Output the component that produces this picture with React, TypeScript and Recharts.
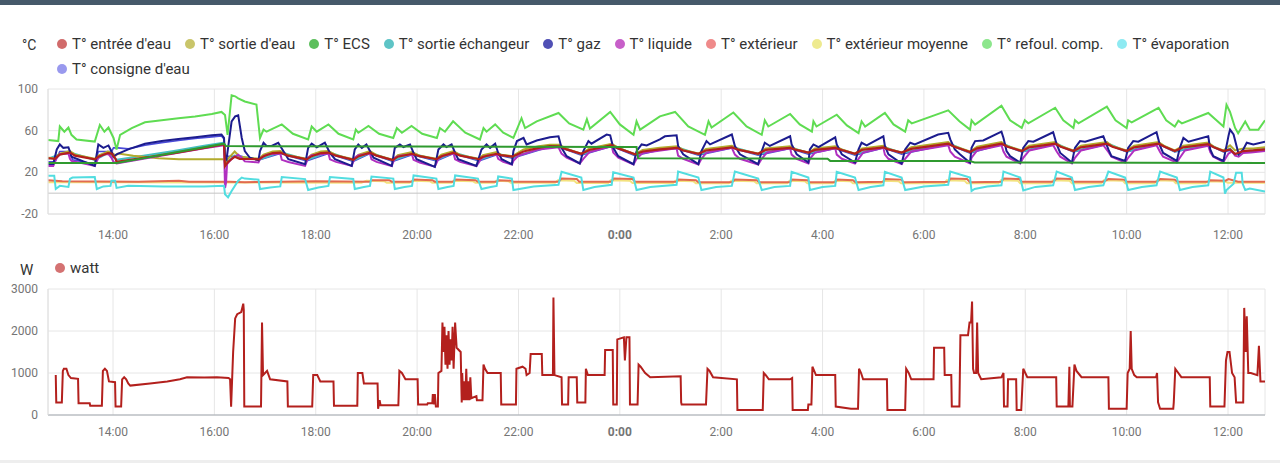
import { LineChart, Line, XAxis, YAxis, CartesianGrid, ReferenceLine } from "recharts";

type Pt = [number, number];

/* ── axes ── */
const timeDomain: [number, number] = [12.717, 36.73];
const hourTicks = [14, 16, 18, 20, 22, 24, 26, 28, 30, 32, 34, 36];
const tempTicks = [-20, 0, 20, 40, 60, 80, 100];
const wattTicks = [0, 500, 1000, 1500, 2000, 2500, 3000];

/* ── temperature series (hour, °C) ── */
const entree: Pt[] = [
  [12.72,33.5],[12.85,33],[12.95,37],[13.15,39],[13.25,36],[13.64,32.5],[13.71,35],[13.90,38.5],[13.97,38],[14.05,33],[14.07,30],[14.6,34],[15.2,38.5],[15.8,43.5],[16.19,47],[16.21,26],[16.27,30],[16.40,35],[16.50,33],[16.70,32.8],[16.88,32.5],[16.97,35.5],[17.15,38.5],[17.30,39],[17.45,36],[17.82,32.5],[17.92,35.5],[18.10,38.5],[18.25,39],[18.40,36],[18.74,32],[18.85,35.5],[19.07,38.9],[19.20,36],[19.52,31.7],[19.62,35],[19.90,37.8],[20.05,35.5],[20.38,32.6],[20.48,35.5],[20.72,38.9],[20.85,36],[21.22,32.6],[21.30,35],[21.57,37.8],[21.65,36.5],[21.88,35],[22.10,40],[22.40,43.5],[22.62,45.3],[22.81,45],[22.95,42],[23.24,37.8],[23.40,41.5],[23.84,46],[23.97,43],[24.30,37.3],[24.45,40],[24.79,42],[25.13,43.5],[25.25,41],[25.55,37.8],[25.70,41],[26.21,44],[26.35,41.5],[26.73,37.8],[26.88,41.5],[27.36,43.5],[27.48,41.5],[27.72,38.9],[27.85,41.5],[28.25,43.5],[28.38,41.5],[28.64,37.8],[28.78,41.5],[29.20,44],[29.30,42],[29.56,38.9],[29.75,42.5],[30.48,47.5],[30.60,44.5],[30.91,39.5],[31.05,43],[31.53,47.5],[31.65,44.5],[31.93,40.5],[32.08,44],[32.59,47.5],[32.70,44.5],[32.95,40.5],[33.10,44],[33.61,47.5],[33.72,44.5],[34.00,40.5],[34.15,44],[34.63,47.5],[34.75,44.5],[34.95,40.5],[35.12,44],[35.61,47],[35.72,44],[35.91,40.5],[36.04,42],[36.14,37.5],[36.30,40.4],[36.50,41],[36.73,42],
];
const sortieEau: Pt[] = [
  [12.72,34],[12.85,33.5],[12.95,38],[13.15,40.5],[13.25,37],[13.64,33],[13.71,36],[13.90,40],[13.97,39],[14.05,36],[14.10,38],[14.40,36],[14.90,33.5],[15.3,32.5],[16.19,32.5],[16.21,28],[16.27,33],[16.40,40],[16.50,35],[16.88,33],[16.97,37],[17.15,40],[17.30,40.5],[17.45,36.5],[17.82,33],[17.92,37],[18.10,40],[18.25,40.5],[18.40,36.5],[18.74,32.5],[18.85,37],[19.07,40.5],[19.20,36.5],[19.52,32],[19.62,36.5],[19.90,39.5],[20.05,36],[20.38,33],[20.48,37],[20.72,40.5],[20.85,36.5],[21.22,33],[21.30,36.5],[21.57,39.5],[21.65,37],[21.88,35.5],[22.10,42],[22.40,45],[22.62,46.5],[22.81,46.5],[22.95,42.5],[23.24,38],[23.40,43],[23.84,47.5],[23.97,43.5],[24.30,37.5],[24.45,41.5],[24.79,43.5],[25.13,45],[25.25,41.5],[25.55,38],[25.70,42.5],[26.21,45.5],[26.35,42],[26.73,38],[26.88,43],[27.36,45],[27.48,42],[27.72,39],[27.85,43],[28.25,45],[28.38,42],[28.64,38],[28.78,43],[29.20,45.5],[29.30,42.5],[29.56,39],[29.75,44],[30.48,49],[30.60,45],[30.91,40],[31.05,44.5],[31.53,49],[31.65,45],[31.93,41],[32.08,45.5],[32.59,49],[32.70,45],[32.95,41],[33.10,45.5],[33.61,49],[33.72,45],[34.00,41],[34.15,45.5],[34.63,49],[34.75,45],[34.95,41],[35.12,45.5],[35.61,48.5],[35.72,44.5],[35.91,41],[36.04,46],[36.14,41],[36.30,43],[36.50,43],[36.73,44],
];
const ecs: Pt[] = [
  [12.72,29],[14.07,29],[16.19,47.5],[16.23,45.2],[20.0,44.8],[24.33,44.3],[24.36,33.5],[28.10,33],[28.15,31],[30.90,31],[31.00,29.5],[36.73,29],
];
const sortieEchangeur: Pt[] = [
  [12.72,33],[12.95,37.5],[13.15,39],[13.64,32],[13.90,38.5],[14.05,33],[14.07,32],[14.6,36],[15.2,40.5],[15.8,45.5],[16.19,48.5],[16.21,28],[16.40,36],[16.88,32],[17.30,39.5],[17.82,32],[18.25,39.5],[18.74,31.5],[19.07,39],[19.52,31.5],[19.90,38],[20.38,32],[20.72,39],[21.22,32],[21.57,38],[21.88,34.5],[22.62,45.5],[22.81,45],[23.24,37.5],[23.84,46.5],[24.30,37],[24.79,42.5],[25.13,44],[25.55,37.5],[26.21,44.5],[26.73,37.5],[27.36,44],[27.72,38.5],[28.25,44],[28.64,37.5],[29.20,44.5],[29.56,38.5],[30.48,48],[30.91,39],[31.53,48],[31.93,40],[32.59,48],[32.95,40],[33.61,48],[34.00,40],[34.63,48],[34.95,40],[35.61,47.5],[35.91,40],[36.04,43],[36.14,37],[36.30,40],[36.73,42.5],
];
const gaz: Pt[] = [
  [12.72,28],[12.82,28],[12.89,42],[12.95,46.8],[13.02,43.5],[13.12,44],[13.15,40],[13.18,35],[13.64,26.2],[13.71,46.8],[13.81,43.5],[13.91,45.8],[13.97,40],[14.01,35],[14.07,37.3],[14.30,42],[14.63,47.5],[14.96,50],[15.29,52],[15.62,53.6],[15.95,55.5],[16.14,56.3],[16.19,53],[16.21,35],[16.24,32.6],[16.34,68.9],[16.41,73.7],[16.47,74.7],[16.54,53],[16.60,40.4],[16.70,34],[16.87,31.7],[16.90,40.4],[16.97,48.4],[17.03,45.3],[17.13,45.3],[17.26,48.4],[17.36,40.4],[17.46,32.6],[17.79,27.8],[17.85,43.5],[17.92,47.5],[18.02,44],[18.18,48.4],[18.28,38.6],[18.38,32.6],[18.71,26.2],
  [18.77,42],[18.84,46.8],[18.91,43.5],[19.00,46.8],[19.07,40.4],[19.14,34],[19.50,26.2],[19.56,43.5],[19.66,46.8],[19.73,44.3],[19.86,46.8],[19.93,38.6],[19.99,32.6],[20.35,25.2],[20.42,42],[20.52,46.8],[20.58,44.3],[20.68,46.8],[20.75,38.6],[20.81,32.6],[21.17,26.2],[21.27,42],[21.37,46.8],[21.44,43.5],[21.54,47.5],[21.60,38.6],[21.67,32.6],[21.87,27.8],[21.90,40.4],[21.97,50],[22.10,53],[22.16,46.8],[22.36,50.6],[22.62,53.6],[22.79,54.6],[22.85,43.5],[22.95,35.5],[23.21,28.5],[23.28,40.4],[23.38,50],[23.44,47.5],[23.74,56.3],[23.81,55.6],[23.87,43.5],[23.97,35.5],[24.27,27.8],[24.33,40.4],[24.43,46.8],[24.53,45.8],[24.79,51.6],
  [24.89,54.6],[25.12,55.6],[25.15,45.3],[25.25,37.3],[25.55,27.8],[25.61,40.4],[25.71,50],[25.78,46.8],[26.21,56.3],[26.27,45.3],[26.37,37.3],[26.73,27.8],[26.80,40.4],[26.86,48.4],[26.96,45.3],[27.36,54.6],[27.39,46.8],[27.49,37.3],[27.72,29.4],[27.75,42],[27.82,46.8],[27.92,44.3],[28.25,53.6],[28.28,46.8],[28.38,37.3],[28.64,29.4],[28.71,42],[28.77,48.4],[28.87,45.8],[29.20,54.6],[29.23,45.3],[29.30,37.3],[29.56,28.5],[29.63,42],[29.73,48.4],[29.82,46.8],[30.28,56.3],[30.48,57.9],[30.52,51.6],[30.61,42],[30.71,37.3],[30.84,32],
  [30.91,29.6],[30.94,43.5],[31.01,50],[31.17,50.6],[31.53,59],[31.57,53],[31.63,40.4],[31.70,35.5],[31.90,29.4],[31.96,43.5],[32.06,50],[32.16,49.4],[32.55,58.5],[32.62,46.8],[32.69,38.6],[32.92,29.4],[32.98,43.5],[33.08,50],[33.18,49.4],[33.54,54.6],[33.64,42],[33.70,35.5],[33.97,30.9],[34.03,43.5],[34.13,50],[34.23,49.4],[34.59,58.5],[34.66,45.3],[34.72,38.6],[34.99,30.9],[35.05,43.5],[35.12,53],[35.22,49.4],[35.61,54.6],[35.65,42],[35.71,35.5],[35.91,30.9],[36.01,55],[36.04,61],[36.11,56.3],[36.21,37.3],[36.30,42],[36.37,48.4],[36.50,46.8],[36.73,49.4],
];
const liquide: Pt[] = [
  [12.72,26],[12.82,26],[12.89,34],[12.95,37.5],[13.12,38],[13.15,33],[13.18,31],[13.64,26.2],[13.71,34],[13.81,37],[13.91,37.5],[13.97,34],[14.01,30],[14.07,28.5],[14.6,33],[15.2,38],[15.8,43],[16.19,46],[16.21,5],[16.23,10],[16.25,28],[16.34,33],[16.47,37],[16.54,34],[16.60,30.5],[16.87,29.5],[16.90,33],[17.03,37],[17.30,38],[17.33,32],[17.46,30],[17.79,26.2],[17.85,34],[17.92,36.5],[18.25,38],[18.28,32.5],[18.40,30],[18.71,26.2],
  [18.77,34],[18.84,36.5],[19.07,38],[19.10,32.5],[19.20,30],[19.50,26],[19.56,34],[19.66,36],[19.90,37],[19.93,32],[20.05,29.5],[20.35,25.5],[20.42,33],[20.52,36],[20.72,38],[20.75,32.5],[20.85,30],[21.17,26],[21.27,33.5],[21.37,36],[21.57,37],[21.60,33],[21.70,30],[21.87,27.5],[21.90,31],[22.00,36],[22.40,42],[22.79,44],[22.85,38],[22.95,34],[23.21,28.5],[23.28,33],[23.40,39.5],[23.84,45],[23.87,39],[23.97,34],[24.27,27.5],[24.33,33],[24.45,38.5],[25.12,43],[25.15,36],[25.25,33],[25.55,27.5],[25.61,33],[25.71,39],[26.21,43.5],[26.27,37],[26.37,33],[26.73,27.5],[26.80,33],[26.90,39],[27.36,43],[27.39,37],[27.49,33],[27.72,28.5],[27.75,33],[27.85,39],[28.25,43],[28.28,37],[28.38,33],[28.64,28.5],[28.71,33],[28.80,39],[29.20,43.5],[29.23,37],[29.30,33],[29.56,28],[29.63,33],[29.75,40],[30.48,46],[30.52,40],[30.61,35],[30.91,28.5],[30.94,34],[31.05,41],[31.53,46],[31.57,40],[31.63,35],[31.90,28.5],[31.96,34],[32.08,41],[32.55,46],[32.62,40],[32.69,35],[32.92,28.5],[32.98,34],[33.10,41],[33.54,46],[33.64,39.5],[33.70,35],[33.97,29.5],[34.03,34],[34.15,41],[34.59,46],[34.66,39.5],[34.72,35],[34.99,29.5],[35.05,34],[35.15,41],[35.61,45.5],[35.65,39.5],[35.71,35],[35.91,30],[36.01,38],[36.08,40],[36.14,36],[36.21,35],[36.30,38.5],[36.45,39],[36.73,40.5],
];
const exterieur: Pt[] = [
  [12.72,12.5],[13.0,11.5],[14.5,11],[15.3,11.8],[15.5,11],[16.3,11],[16.6,10.5],[17.3,11],[18.0,11.5],[19.07,11],[19.10,12.5],[19.45,12.5],[19.50,11],[19.90,11],[19.93,13],[20.30,12.5],[20.35,11],[20.72,11],[20.75,13],[21.15,12.5],[21.20,11],[21.57,11],[21.60,12.5],[21.85,12],[21.90,11],[22.79,11],[22.85,14],[23.15,13.5],[23.20,11],[23.84,11],[23.87,14],[24.25,13.5],[24.30,11],[25.12,11],[25.15,13],[25.50,12.5],[25.55,10.5],[26.21,10.5],[26.27,13],[26.70,12.5],[26.75,10.5],[27.36,10.5],[27.39,13],[27.70,12.5],[27.75,10.5],[28.25,10.5],[28.28,13],[28.60,12.5],[28.65,10.5],[29.20,11],[29.23,13.5],[29.55,13],[29.60,10.5],[30.48,11],[30.52,14],[30.85,13.5],[30.91,10.5],[31.53,11],[31.57,14],[31.88,13.5],[31.93,11],[32.55,11],[32.62,14],[32.90,13.5],[32.95,11],[33.54,11],[33.64,13.5],[33.95,13],[34.00,11],[34.59,11],[34.66,13.5],[34.95,13],[35.00,11],[35.61,11],[35.65,12.5],[35.95,12],[36.01,13.5],[36.20,11],[36.73,11],
];
const exterieurMoyenne: Pt[] = [
  [12.72,10.5],[14.0,10.5],[16.2,10.2],[18.9,10],[19.0,11.8],[19.35,11.5],[19.40,10],[19.85,10],[19.90,12],[20.25,11.5],[20.30,10],[20.68,10],[20.72,12],[21.10,11.5],[21.15,10],[21.52,10],[21.56,11.8],[21.80,11.5],[21.85,10],[22.72,10],[22.78,12.5],[23.10,12],[23.15,9.8],[23.77,9.8],[23.82,12.5],[24.20,12],[24.25,9.8],[25.05,9.8],[25.10,12],[25.45,11.5],[25.50,9.5],[26.15,9.5],[26.20,12],[26.65,11.5],[26.70,9.5],[27.30,9.5],[27.35,12],[27.65,11.5],[27.70,9.5],[28.20,9.5],[28.25,12],[28.55,11.5],[28.60,9.5],[29.15,9.5],[29.20,12],[29.50,11.5],[29.55,9.5],[30.40,9.5],[30.45,12.5],[30.80,12],[30.85,9.5],[31.47,9.5],[31.52,12.5],[31.85,12],[31.90,9.5],[32.50,9.5],[32.55,12.5],[32.87,12],[32.92,9.5],[33.50,9.5],[33.55,12.5],[33.92,12],[33.97,9.5],[34.55,9.5],[34.60,12.5],[34.92,12],[34.97,9.5],[35.55,9.5],[35.60,11.5],[35.95,11],[36.0,10],[36.73,10],
];
const refoul: Pt[] = [
  [12.72,51],[12.92,50],[12.95,64],[13.04,59],[13.12,63],[13.18,56],[13.28,51.5],[13.64,49.5],[13.74,65.5],[13.83,59],[13.91,63],[14.01,53],[14.07,42],[14.14,56],[14.37,62.5],[14.63,68],[14.96,70],[15.29,72],[15.62,73.5],[15.95,76],[16.14,78],[16.21,75],[16.26,56],[16.34,94],[16.41,93],[16.47,91],[16.60,88],[16.83,85],[16.90,53],[16.97,61],[17.03,59],[17.33,66],[17.55,57],[17.85,51.5],[17.92,64],[18.02,59],[18.25,66],[18.45,57],[18.74,51.5],
  [18.79,61],[18.84,58],[19.04,64.5],[19.25,57],[19.53,53],[19.60,62.5],[19.70,58],[19.89,64.5],[20.10,57],[20.39,53],[20.45,62.5],[20.55,59],[20.71,69],[20.95,58],[21.24,51.5],[21.31,62.5],[21.37,59],[21.54,66],[21.70,58],[21.90,53],[22.06,72],[22.13,62.5],[22.36,69],[22.79,77],[23.00,67],[23.28,61],[23.35,71],[23.41,62],[23.81,78],[24.00,66],[24.27,56],[24.33,69],[24.40,61],[24.79,73.7],
  [25.09,78],[25.35,64],[25.68,56],[25.75,69],[25.81,63],[26.24,77.4],[26.50,64],[26.80,56],[26.86,70],[26.93,64],[27.36,76],[27.55,66],[27.79,59],[27.82,69],[27.88,64],[28.28,75.3],[28.48,65],[28.71,57.6],[28.77,69],[28.84,64],[29.23,77],[29.40,66],[29.63,59],[29.69,70],[29.76,67],[30.48,79.5],
  [30.70,69],[30.91,61],[30.94,70],[31.01,65.8],[31.53,84],[31.70,70],[31.93,62.6],[31.99,70],[32.06,67],[32.59,82],[32.75,70],[32.95,62.6],[32.98,70],[33.05,67],[33.61,83],[33.78,70],[34.00,62.6],[34.03,70],[34.10,68],[34.63,82],[34.78,70],[34.95,64],[35.02,69.5],[35.09,67],[35.61,77],[35.91,64],[35.97,84.8],[36.04,78],[36.14,62.6],[36.20,57.6],[36.34,68.9],[36.43,61],[36.60,61],[36.73,70],
];
const evaporation: Pt[] = [
  [12.72,16.8],[12.84,16.8],[12.87,4],[12.95,7],[13.12,6],[13.15,13.6],[13.20,15],[13.64,15.5],[13.68,4],[13.81,6.5],[13.95,7],[13.97,12],[14.04,12],[14.07,5],[14.3,7],[15.0,6.5],[15.8,6.5],[16.19,7],[16.21,-1],[16.27,-4],[16.34,2],[16.47,12],[16.54,15],[16.60,14],[16.87,13],[16.90,4],[17.10,5.5],[17.30,6.5],[17.33,15.5],[17.79,13.5],[17.85,3],[18.05,5.5],[18.25,7],[18.28,15.5],[18.74,13.6],[18.77,4],[18.95,6],[19.07,7],[19.10,16],[19.53,14],[19.56,4],[19.75,6],[19.90,7],[19.93,17],[20.38,14],[20.42,4],[20.60,6],[20.72,7],[20.75,17],[21.20,14],[21.27,4],[21.45,6],[21.57,7],[21.60,16],[21.87,14],[21.90,3],[22.30,6.5],[22.79,8],[22.85,20.5],[23.24,15],[23.28,3],[23.50,6],[23.84,8],[23.87,20],[24.27,15],[24.33,3],[24.60,6],[25.12,8],[25.15,20.7],[25.55,15],[25.61,3],[25.90,6],[26.21,7],[26.27,20.7],[26.73,14],[26.80,3],[27.05,6],[27.36,7],[27.39,20.5],[27.72,15],[27.75,3],[28.00,6],[28.25,7],[28.28,20.5],[28.64,15],[28.71,3],[28.95,6],[29.20,7.5],[29.23,20.5],[29.56,15],[29.63,3],[30.00,6.5],[30.48,8],[30.52,20.7],[30.91,15],[30.94,2],[31.00,4],[31.25,6.5],[31.53,7.5],[31.57,20.7],[31.90,15],[31.96,2.5],[32.20,6],[32.55,7.5],[32.62,20.7],[32.92,15],[32.98,3],[33.25,6],[33.54,7.5],[33.64,20.7],[33.97,15],[34.03,3],[34.30,6],[34.59,7.5],[34.66,20.7],[34.99,15],[35.05,3],[35.30,6],[35.61,7.5],[35.65,20.7],[35.91,15],[35.94,-0.5],[35.97,3],[36.11,9],[36.16,19.7],[36.27,19.7],[36.29,9],[36.34,3],[36.43,4.5],[36.73,1.5],
];
const consigne: Pt[] = [
  [12.72,30],[12.85,30],[12.95,40],[13.15,40],[13.20,32],[13.64,28],[13.71,40],[13.97,40],[14.01,43.5],[14.10,43.5],[14.30,42.5],[14.63,46],[14.96,48.5],[15.29,50.5],[15.62,52.5],[15.95,54],[16.14,55],[16.19,52],[16.21,35.5],[16.54,35.5],[16.60,34],[16.88,32],[17.30,38],[17.82,31],[18.25,38],[18.74,30.5],[19.07,38],[19.52,30.5],[19.90,37],[20.38,31],[20.72,38],[21.22,31],[21.57,37],[21.88,33.5],[22.62,44.5],[22.81,44],[23.24,36.5],[23.84,45],[24.30,36],[24.79,41.5],[25.13,43],[25.55,36.5],[26.21,43.5],[26.73,36.5],[27.36,43],[27.72,37.5],[28.25,43],[28.64,36.5],[29.20,43.5],[29.56,37.5],[30.48,47],[30.91,38.5],[31.53,47],[31.93,39.5],[32.59,47],[32.95,39.5],[33.61,47],[34.00,39.5],[34.63,47],[34.95,39.5],[35.61,46.5],[35.91,39.5],[36.04,41],[36.14,36.5],[36.30,39.5],[36.73,41.5],
];

/* ── power (hour, W) ── */
const watt: Pt[] = [
  [12.87,950],[12.88,300],[12.99,300],[13.01,1050],[13.03,1100],[13.08,1100],[13.12,950],[13.17,880],[13.31,860],[13.32,280],[13.54,280],[13.55,220],[13.78,220],[13.80,1050],[13.84,1100],[13.88,1050],[13.92,800],[14.04,780],[14.05,200],[14.16,200],[14.18,850],[14.22,900],[14.26,850],[14.30,750],[14.34,700],[14.73,750],[15.07,800],[15.32,850],[15.46,900],[15.80,890],[16.05,900],[16.28,880],[16.31,850],[16.33,200],[16.37,1500],[16.41,2300],[16.45,2400],[16.53,2450],[16.57,2650],[16.58,2500],[16.59,200],[16.92,200],[16.94,2200],[16.96,950],[17.00,1000],[17.04,1050],[17.10,850],[17.44,800],[17.45,200],[17.93,200],[17.95,950],[18.03,950],[18.09,800],[18.35,800],[18.36,220],[18.82,220],[18.83,1000],[18.92,1000],[18.95,750],[19.22,750],[19.23,150],[19.26,350],[19.28,230],[19.63,230],[19.65,1050],[19.70,1000],[19.77,850],[20.01,850],[20.02,250],[20.20,250],[20.21,280],[20.30,280],[20.31,500],[20.33,250],[20.35,500],[20.37,200],[20.41,200],[20.42,1000],[20.48,1050],[20.50,2200],[20.52,1500],[20.54,2100],[20.56,1200],[20.58,1900],[20.60,1100],[20.62,2000],[20.64,1200],[20.66,1800],[20.68,1300],[20.70,2100],[20.72,1100],[20.75,2200],[20.78,1600],[20.86,1500],[20.88,300],[20.89,1000],[20.91,350],[20.93,800],[20.95,350],[20.97,1100],[20.99,350],[21.01,800],[21.03,350],[21.05,900],[21.07,400],[21.17,450],[21.18,350],[21.29,350],[21.31,1200],[21.34,1100],[21.39,1000],[21.65,1000],[21.66,250],[21.95,250],[21.96,1100],[22.08,1150],[22.14,1100],[22.16,950],[22.22,1000],[22.24,1450],[22.46,1450],[22.47,950],[22.68,950],[22.69,2800],[22.71,950],[22.85,900],[22.86,250],[22.98,250],[22.99,900],[23.15,900],[23.16,300],[23.32,300],[23.33,1100],[23.37,950],[23.70,950],[23.71,1550],[23.86,1550],[23.87,250],[23.94,250],[23.95,1800],[24.08,1850],[24.10,1300],[24.13,1850],[24.19,1850],[24.20,250],[24.35,250],[24.37,1200],[24.41,1150],[24.50,1000],[24.60,900],[25.20,920],[25.21,300],[25.22,250],[25.70,250],[25.73,1100],[25.77,1050],[25.84,900],[26.31,850],[26.32,120],[26.82,120],[26.84,1000],[26.88,950],[26.94,850],[27.36,850],[27.40,880],[27.41,120],[27.71,120],[27.72,250],[27.78,250],[27.80,1150],[27.87,950],[28.25,950],[28.26,200],[28.56,150],[28.70,150],[28.72,1100],[28.76,1000],[28.80,850],[29.27,850],[29.28,120],[29.63,120],[29.65,1100],[29.70,1000],[29.75,850],[30.19,850],[30.20,1600],[30.40,1600],[30.41,950],[30.54,950],[30.55,200],[30.70,200],[30.72,1900],[30.87,1900],[30.90,2200],[30.93,2200],[30.95,2700],[30.97,1100],[30.99,1000],[31.03,1000],[31.05,2200],[31.07,1000],[31.13,850],[31.53,900],[31.57,1000],[31.58,200],[31.65,200],[31.66,850],[31.82,850],[31.83,120],[31.92,120],[31.96,1100],[32.00,1000],[32.04,900],[32.61,900],[32.62,200],[32.85,200],[32.87,1150],[32.88,200],[32.93,200],[32.97,1200],[33.01,1050],[33.11,900],[33.64,900],[33.65,150],[34.00,150],[34.02,1000],[34.06,1100],[34.08,2000],[34.10,1100],[34.15,950],[34.20,900],[34.58,900],[34.60,1000],[34.62,300],[34.66,150],[34.92,150],[34.93,300],[34.96,1100],[35.02,1000],[35.08,900],[35.64,900],[35.65,200],[35.93,200],[35.96,1300],[35.99,1500],[36.03,1500],[36.08,1000],[36.13,900],[36.16,300],[36.30,300],[36.32,2550],[36.35,1500],[36.37,2350],[36.40,1000],[36.45,1000],[36.58,950],[36.61,1650],[36.64,800],[36.73,800],
];

/* ── series styles (legend order) ── */
const tempSeries = [
  { name: "T° entrée d'eau", data: entree, stroke: "#b3201d", dot: "#d16b6b", width: 2.2, z: 9 },
  { name: "T° sortie d'eau", data: sortieEau, stroke: "#b3ab2c", dot: "#c9c56a", width: 2, z: 3 },
  { name: "T° ECS", data: ecs, stroke: "#2f9a2f", dot: "#5cbf5c", width: 2, z: 10 },
  { name: "T° sortie échangeur", data: sortieEchangeur, stroke: "#45bfc0", dot: "#5ec4c6", width: 2, z: 2 },
  { name: "T° gaz", data: gaz, stroke: "#1c1c8e", dot: "#5050b5", width: 2, z: 7 },
  { name: "T° liquide", data: liquide, stroke: "#b02fc0", dot: "#c75fc9", width: 2, z: 6 },
  { name: "T° extérieur", data: exterieur, stroke: "#e26a50", dot: "#ef8a8a", width: 2, z: 5 },
  { name: "T° extérieur moyenne", data: exterieurMoyenne, stroke: "#f3e27e", dot: "#eeea8f", width: 2, z: 4 },
  { name: "T° refoul. comp.", data: refoul, stroke: "#5fdc52", dot: "#8ce68c", width: 2, z: 11 },
  { name: "T° évaporation", data: evaporation, stroke: "#52dde0", dot: "#8eeaf2", width: 2, z: 8 },
  { name: "T° consigne d'eau", data: consigne, stroke: "#4a4ad8", dot: "#9999ee", width: 1.6, z: 1 },
];

const toRows = (pts: Pt[]) => pts.map(([t, v]) => ({ t, v }));

function TimeTick({ x, y, payload }: any) {
  const h = payload.value % 24;
  return (
    <text x={x} y={y} dy={12} textAnchor="middle" fill="#757575" fontSize={12} fontWeight={h === 0 ? 700 : 400}>
      {`${h}:00`}
    </text>
  );
}

function ValueTick({ x, y, payload }: any) {
  return (
    <text x={x} y={y} dy={4} textAnchor="end" fill="#757575" fontSize={12}>
      {payload.value}
    </text>
  );
}

function LegendItem({ color, label }: { color: string; label: string }) {
  return (
    <div style={{ display: "flex", alignItems: "center", height: 25, marginRight: 14 }}>
      <span style={{ width: 10, height: 10, borderRadius: 5, background: color, marginRight: 5 }} />
      <span>{label}</span>
    </div>
  );
}

export default function App() {
  const drawOrder = [...tempSeries].sort((a, b) => a.z - b.z);
  return (
    <div style={{ position: "relative", width: 1280, height: 463, background: "#fff", overflow: "hidden", fontFamily: "Roboto, sans-serif" }}>
      <style>{"body{margin:0}"}</style>
      <div style={{ position: "absolute", left: 0, top: 0, width: 1280, height: 5, background: "#46596a" }} />
      <div style={{ position: "absolute", left: 0, top: 460, width: 1280, height: 3, background: "#eeeeee" }} />

      {/* temperature chart */}
      <div style={{ position: "absolute", left: 22, top: 37, fontSize: 14, color: "#333" }}>°C</div>
      <div style={{ position: "absolute", left: 57, top: 31, width: 1205, display: "flex", flexWrap: "wrap", fontSize: 15, color: "#333" }}>
        {tempSeries.map((s) => <LegendItem key={s.name} color={s.dot} label={s.name} />)}
      </div>
      <div style={{ position: "absolute", left: 0, top: 0 }}>
        <LineChart width={1280} height={245} margin={{ top: 89, right: 15, bottom: 1, left: 8 }}>
          <CartesianGrid stroke="#e6e6e6" />
          <XAxis dataKey="t" type="number" domain={timeDomain} ticks={hourTicks} allowDataOverflow
            height={30} tickLine={false} axisLine={{ stroke: "#e0e0e0" }} tickMargin={7} tick={<TimeTick />} />
          <YAxis type="number" domain={[-20, 100]} ticks={tempTicks} width={40}
            tickLine={false} axisLine={{ stroke: "#e0e0e0" }} tickMargin={4} tick={<ValueTick />} />
          <ReferenceLine y={0} stroke="#c4c4c4" />
          {drawOrder.map((s) => (
            <Line key={s.name} data={toRows(s.data)} dataKey="v" name={s.name} type="linear"
              stroke={s.stroke} strokeWidth={s.width} dot={false} activeDot={false} isAnimationActive={false} />
          ))}
        </LineChart>
      </div>

      {/* power chart */}
      <div style={{ position: "absolute", left: 20, top: 261, fontSize: 15, color: "#333" }}>W</div>
      <div style={{ position: "absolute", left: 55, top: 255, display: "flex", fontSize: 15, color: "#333" }}>
        <LegendItem color="#d47272" label="watt" />
      </div>
      <div style={{ position: "absolute", left: 0, top: 250 }}>
        <LineChart width={1280} height={210} margin={{ top: 39, right: 15, bottom: 15, left: 8 }}>
          <CartesianGrid stroke="#e6e6e6" />
          <XAxis dataKey="t" type="number" domain={timeDomain} ticks={hourTicks} allowDataOverflow
            height={30} tickLine={false} axisLine={{ stroke: "#a3a9b0" }} tickMargin={3} tick={<TimeTick />} />
          <YAxis type="number" domain={[0, 3000]} ticks={wattTicks} width={40}
            tickLine={false} axisLine={{ stroke: "#e0e0e0" }} tickMargin={4} tick={<ValueTick />} />
          <Line data={toRows(watt)} dataKey="v" name="watt" type="linear" stroke="#b3201d" strokeWidth={2}
            dot={false} activeDot={false} isAnimationActive={false} />
        </LineChart>
      </div>
    </div>
  );
}
